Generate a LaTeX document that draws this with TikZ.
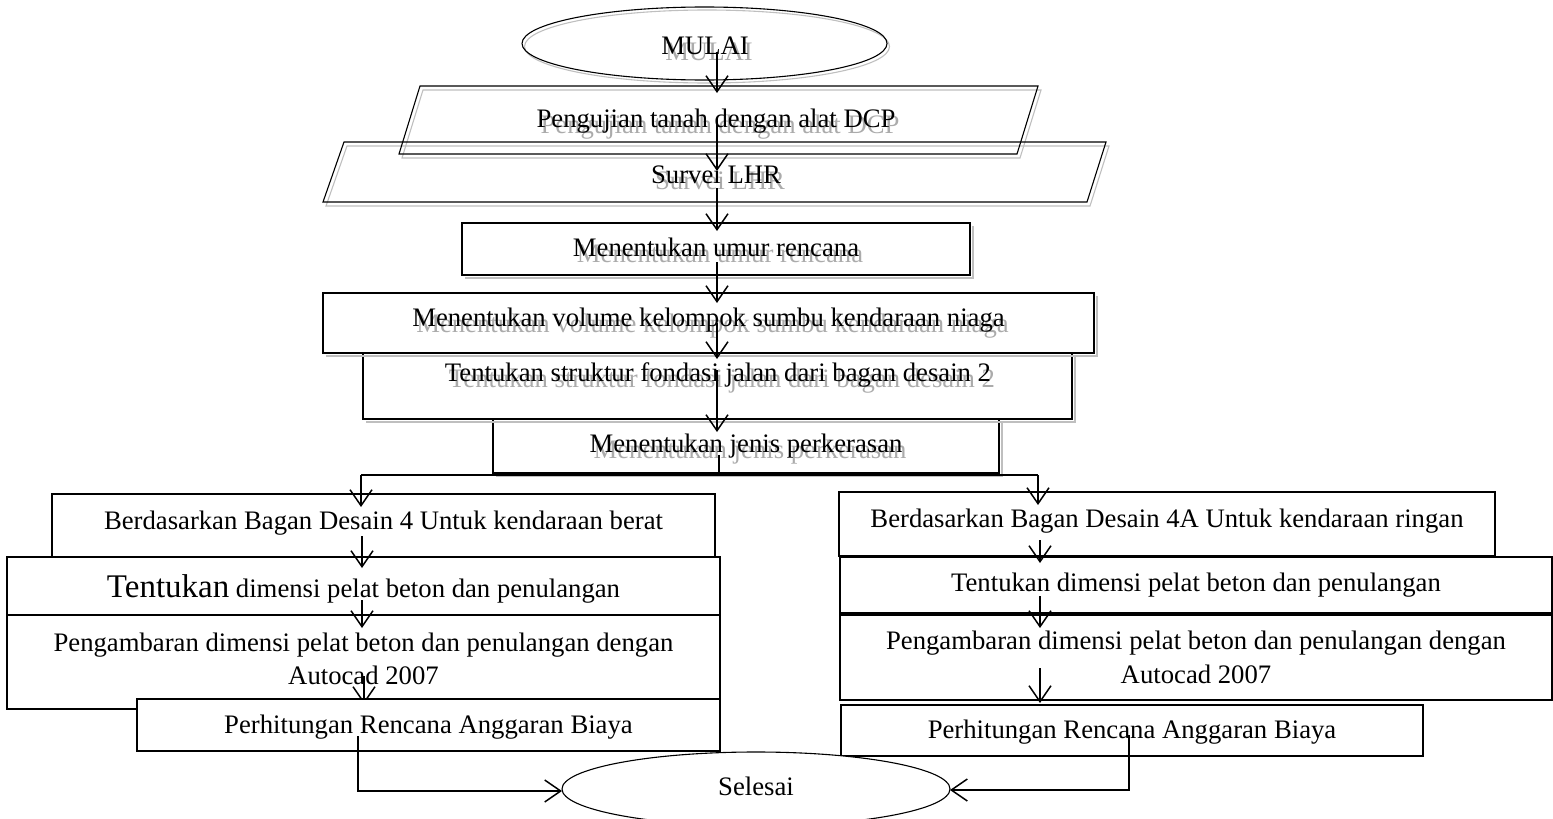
\documentclass[tikz,border=0pt]{standalone}
\usepackage{fontspec}
\setmainfont{Liberation Serif}
\usetikzlibrary{arrows.meta,shapes.geometric}
\begin{document}
\begin{tikzpicture}[x=1pt,y=-1pt,
  box/.style={draw=black, line width=1.1pt, inner sep=0pt, outer sep=0pt},
  wbox/.style={box, fill=white},
  shline/.style={draw=black!25, line width=1.1pt},
  ell/.style={ellipse, draw=black, line width=1.1pt, inner sep=0pt, outer sep=0pt},
  ellsh/.style={ellipse, draw=black!25, line width=1.1pt, inner sep=0pt, outer sep=0pt},
  txt/.style={font=\fontsize{26.7}{33}\selectfont, inner sep=0pt, outer sep=0pt, anchor=base, text=black},
  txtsh/.style={txt, text=black!33},
  arr/.style={line width=1.5pt, -{Straight Barb[length=16pt,width=22pt]}},
  conn/.style={line width=1.5pt}]

\useasboundingbox (0,0) rectangle (1553,819);

% ---------- start ellipse ----------
\node[ellsh, minimum width=365pt, minimum height=73pt] (mulaish) at (707,46.5) {};
\node[ell, minimum width=365pt, minimum height=73pt] (mulai) at (704.5,43.5) {};
\node[txtsh] (tmulaish) at (709,60) {MULAI};
\node[txt] (tmulai) at (705,54) {MULAI};

% ---------- parallelograms ----------
\draw[shline] (423,90) -- (1041,90) -- (1020,158) -- (402,158) -- cycle;
\draw[shline] (347,146) -- (1109,146) -- (1090,206) -- (326,206) -- cycle;
\draw[box] (420,86) -- (1038,86) -- (1017,154) -- (399,154) -- cycle;
\draw[box] (344,142) -- (1106,142) -- (1087,202) -- (323,202) -- cycle;
\node[txtsh] (t1sh) at (720,133) {Pengujian tanah dengan alat DCP};
\node[txt] (t1) at (716,127) {Pengujian tanah dengan alat DCP};
\node[txtsh] (t2sh) at (720,189) {Survei LHR};
\node[txt] (t2) at (716,183) {Survei LHR};

% ---------- upper boxes ----------
\node[box, minimum width=508pt, minimum height=52pt] (b3) at (716,249) {};
\node[box, minimum width=771pt, minimum height=60pt] (b4) at (708.5,323) {};
\node[box, minimum width=709pt, minimum height=66pt] (b5) at (717.5,386) {};
\node[box, minimum width=506pt, minimum height=54pt] (b6) at (746,446) {};
\foreach \b in {b3,b4,b5,b6}{
  \draw[shline] ([shift={(3,3)}]\b.north east) -- ([shift={(3,3)}]\b.south east) -- ([shift={(3,3)}]\b.south west);
}
\node[txtsh] (t3sh) at (720,262) {Menentukan umur rencana};
\node[txt] (t3) at (716,256) {Menentukan umur rencana};
\node[txtsh] (t4sh) at (712.5,332) {Menentukan volume kelompok sumbu kendaraan niaga};
\node[txt] (t4) at (708.5,326) {Menentukan volume kelompok sumbu kendaraan niaga};
\node[txtsh] (t5sh) at (722,387) {Tentukan struktur fondasi jalan dari bagan desain 2};
\node[txt] (t5) at (718,381) {Tentukan struktur fondasi jalan dari bagan desain 2};
\node[txtsh] (t6sh) at (750,458) {Menentukan jenis perkerasan};
\node[txt] (t6) at (746,452) {Menentukan jenis perkerasan};

% ---------- left column ----------
\node[box, minimum width=663pt, minimum height=63pt] (l1) at (383.5,525.5) {};
\node[box, minimum width=713pt, minimum height=58pt] (l2) at (363.5,586) {};
\node[box, minimum width=713pt, minimum height=94pt] (l3) at (363.5,662) {};
\node[txt] (tl1) at (383.5,529) {Berdasarkan Bagan Desain 4 Untuk kendaraan berat};
\node[txt] (tl2) at (363.5,597) {{\fontsize{33}{33}\selectfont Tentukan} dimensi pelat beton dan penulangan};
\node[txt] (tl3a) at (363.5,651) {Pengambaran dimensi pelat beton dan penulangan dengan};
\node[txt] (tl3b) at (363.5,684) {Autocad 2007};
\coordinate (la3s) at (364,676);
\coordinate (la3e) at (364,704);
\draw[arr] (la3s) -- (la3e);
\node[wbox, minimum width=583pt, minimum height=52pt] (l4) at (428.5,725) {};
\node[txt] (tl4) at (428.5,733) {Perhitungan Rencana Anggaran Biaya};

% ---------- right column ----------
\node[box, minimum width=656pt, minimum height=64pt] (r1) at (1167,524) {};
\node[box, minimum width=712pt, minimum height=56pt] (r2) at (1196,585) {};
\node[box, minimum width=712pt, minimum height=85pt] (r3) at (1196,657.5) {};
\node[box, minimum width=582pt, minimum height=51pt] (r4) at (1132,730.5) {};
\node[txt] (tr1) at (1167,527) {Berdasarkan Bagan Desain 4A Untuk kendaraan ringan};
\node[txt] (tr2) at (1196,591) {Tentukan dimensi pelat beton dan penulangan};
\node[txt] (tr3a) at (1196,649) {Pengambaran dimensi pelat beton dan penulangan dengan};
\node[txt] (tr3b) at (1196,683) {Autocad 2007};
\node[txt] (tr4) at (1132,738) {Perhitungan Rencana Anggaran Biaya};

% ---------- end ellipse ----------
\node[ell, fill=white, minimum width=388pt, minimum height=74pt] (selesai) at (756,789) {};
\node[txt] (tsel) at (756,795) {Selesai};

% ---------- connectors ----------
\coordinate (a1s) at (717,52);   \coordinate (a1e) at (717,93);
\coordinate (a2s) at (717,118);  \coordinate (a2e) at (717,171);
\coordinate (a3s) at (717,188);  \coordinate (a3e) at (717,231);
\coordinate (a4s) at (717,262);  \coordinate (a4e) at (717,303);
\coordinate (a5s) at (717,323);  \coordinate (a5e) at (717,359);
\coordinate (a6s) at (717,370);  \coordinate (a6e) at (717,432);
\draw[arr] (a1s) -- (a1e);
\draw[arr] (a2s) -- (a2e);
\draw[arr] (a3s) -- (a3e);
\draw[arr] (a4s) -- (a4e);
\draw[arr] (a5s) -- (a5e);
\draw[arr] (a6s) -- (a6e);

\coordinate (sp) at (719,455);
\coordinate (spm) at (719,475);
\coordinate (spl) at (361,475);
\coordinate (spr) at (1038,475);
\coordinate (lb1e) at (361,507);
\coordinate (rb1e) at (1038,505);
\draw[conn] (sp) -- (spm);
\draw[conn] (spl) -- (spr);
\draw[arr] (spl) -- (lb1e);
\draw[arr] (spr) -- (rb1e);

\coordinate (la1s) at (362,536); \coordinate (la1e) at (362,568);
\coordinate (la2s) at (362,600); \coordinate (la2e) at (362,628);
\draw[arr] (la1s) -- (la1e);
\draw[arr] (la2s) -- (la2e);

\coordinate (ra1s) at (1040,540); \coordinate (ra1e) at (1040,563);
\coordinate (ra2s) at (1040,596); \coordinate (ra2e) at (1040,628);
\coordinate (ra3s) at (1040,668); \coordinate (ra3e) at (1040,703);
\draw[arr] (ra1s) -- (ra1e);
\draw[arr] (ra2s) -- (ra2e);
\draw[arr] (ra3s) -- (ra3e);

\coordinate (lfs) at (358,736);
\coordinate (lfc) at (358,791);
\coordinate (rfs) at (1129,735);
\coordinate (rfc) at (1129,790);
\draw[arr] (lfs) -- (lfc) -- (selesai.west |- lfc);
\draw[arr] (rfs) -- (rfc) -- (selesai.east |- rfc);
\end{tikzpicture}
\end{document}
